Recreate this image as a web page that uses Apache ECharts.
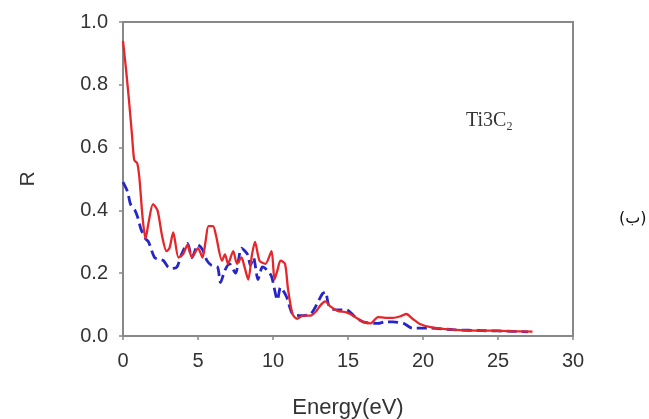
<!DOCTYPE html>
<html>
<head>
<meta charset="utf-8">
<script src="https://cdn.jsdelivr.net/npm/echarts@6/dist/echarts.min.js"></script>
<style>html,body{margin:0;padding:0;background:#fff}#c{width:649px;height:419px}</style>
</head>
<body>
<div id="c"></div>
<script>
var redEnergy = [0,0.2,0.4,0.6,0.75,0.95,1.1,1.3,1.5,1.7,2.0,2.3,2.6,2.9,3.1,3.35,3.7,4.0,4.3,4.6,5.0,5.3,5.5,5.7,6.0,6.2,6.6,6.8,7.0,7.35,7.6,7.9,8.1,8.35,8.6,8.8,9.1,9.5,9.9,10.1,10.3,10.5,10.8,11.0,11.3,11.6,12.0,12.5,12.9,13.2,13.5,13.8,14.3,14.9,15.5,16.0,16.5,17.0,17.5,18.0,18.5,18.9,19.3,19.8,20.5,21.5,22.9,24.5,26.0,27.3];
var redR = [0.94,0.85,0.75,0.64,0.56,0.55,0.50,0.38,0.31,0.36,0.42,0.40,0.32,0.27,0.28,0.33,0.25,0.26,0.29,0.25,0.28,0.25,0.30,0.35,0.35,0.32,0.24,0.26,0.23,0.27,0.23,0.25,0.22,0.18,0.26,0.30,0.24,0.23,0.27,0.18,0.21,0.24,0.23,0.15,0.07,0.055,0.065,0.065,0.08,0.10,0.11,0.095,0.08,0.075,0.06,0.045,0.04,0.06,0.058,0.058,0.063,0.07,0.055,0.038,0.028,0.022,0.018,0.017,0.015,0.014];
var blueEnergy = [0,0.3,0.5,0.8,1.0,1.2,1.5,1.7,2.1,2.4,2.7,3.0,3.3,3.6,3.9,4.3,4.6,5.0,5.3,5.6,5.9,6.3,6.5,6.8,7.1,7.5,7.9,8.3,8.5,8.7,9.0,9.3,9.6,9.9,10.3,10.5,10.9,11.3,11.8,12.5,12.8,13.3,13.5,13.7,14.0,14.5,14.9,15.5,16.0,17.0,17.5,18.0,18.7,19.3,20.5,22.0,24.0,26.0,27.0];
var blueR = [0.49,0.46,0.42,0.40,0.375,0.34,0.31,0.30,0.25,0.245,0.24,0.22,0.215,0.22,0.26,0.295,0.25,0.29,0.275,0.24,0.225,0.22,0.17,0.21,0.23,0.20,0.28,0.26,0.225,0.25,0.18,0.22,0.21,0.19,0.115,0.155,0.125,0.07,0.065,0.07,0.09,0.135,0.14,0.10,0.085,0.083,0.083,0.06,0.045,0.04,0.045,0.045,0.04,0.025,0.025,0.02,0.017,0.015,0.013];
var xTicks = [0,5,10,15,20,25,30];
var yTicks = [0.0,0.2,0.4,0.6,0.8,1.0];

function pairs(xs, ys){ return xs.map(function(x,i){ return [x, ys[i]]; }); }

var chart = echarts.init(document.getElementById('c'), null, {renderer:'canvas'});
var axisCol = '#888888';
var labelCol = '#333333';
var fam = 'Liberation Sans';
chart.setOption({
  animation: false,
  backgroundColor: '#ffffff',
  grid: {left:123, right:76, top:22, bottom:83, show:true, borderColor:axisCol, borderWidth:2,
         backgroundColor:'transparent', outerBoundsMode:'none'},
  xAxis: {
    type:'value', min:xTicks[0], max:xTicks[xTicks.length-1], interval:5,
    name:'Energy(eV)', nameLocation:'middle', nameGap:61,
    nameTextStyle:{fontFamily:fam, fontSize:22, color:labelCol},
    axisLine:{show:true, lineStyle:{color:axisCol, width:2}},
    axisTick:{show:true, length:4, lineStyle:{color:axisCol, width:1.5}},
    axisLabel:{fontFamily:fam, fontSize:20, color:labelCol, margin:15},
    splitLine:{show:false}
  },
  yAxis: {
    type:'value', min:yTicks[0], max:yTicks[yTicks.length-1], interval:0.2,
    name:'R', nameLocation:'middle', nameGap:84, nameRotate:90,
    nameTextStyle:{fontFamily:fam, fontSize:21, color:labelCol},
    axisLine:{show:true, lineStyle:{color:axisCol, width:2}},
    axisTick:{show:true, length:4, lineStyle:{color:axisCol, width:1.5}},
    axisLabel:{fontFamily:fam, fontSize:20, color:labelCol, margin:15, formatter:function(v){return v.toFixed(1);}},
    splitLine:{show:false}
  },
  series: [
    {type:'line', data:pairs(blueEnergy, blueR), showSymbol:false, smooth:0.25,
     lineStyle:{color:'#2626c8', width:2.8, type:[10,5]}, z:2},
    {type:'line', data:pairs(redEnergy, redR), showSymbol:false, smooth:0.25,
     lineStyle:{color:'#e5262b', width:2.3}, z:3}
  ],
  graphic: [
    {type:'text', left:466, top:111, style:{
      text:'Ti3C{s|2}', fontFamily:'Liberation Serif', fontSize:20, fill:'#333',
      rich:{s:{fontFamily:'Liberation Serif', fontSize:12, fill:'#333', padding:[12,0,0,0]}}
    }},
    {type:'text', left:619, top:211, style:{text:'(ب)', fontFamily:'DejaVu Sans', fontSize:16, fill:'#111'}}
  ]
});
</script>
</body>
</html>
